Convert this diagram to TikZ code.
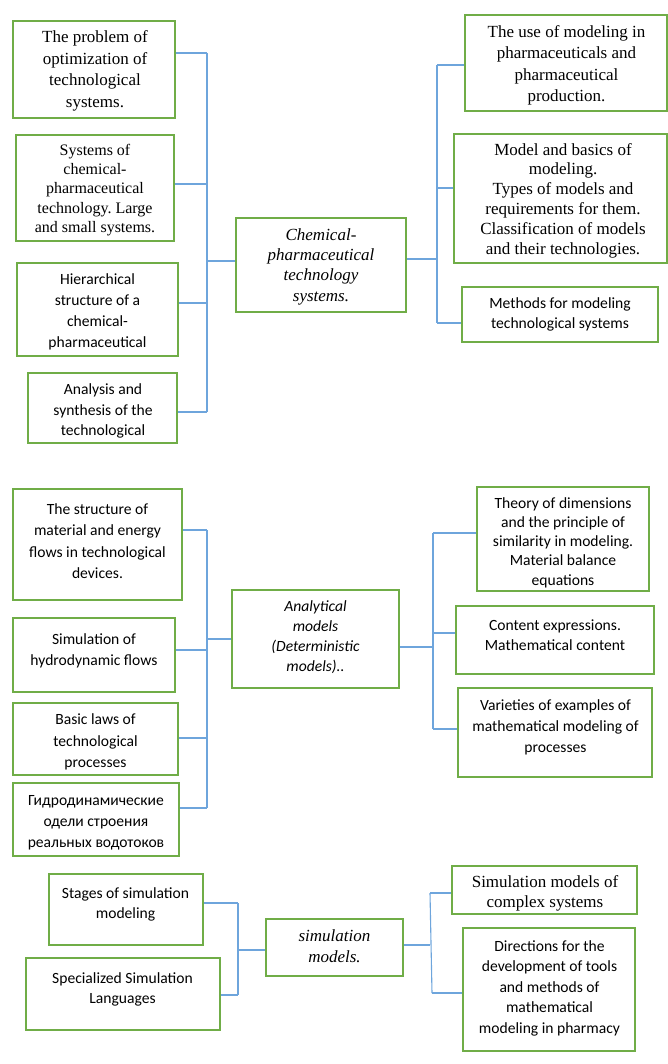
\documentclass[tikz,border=0pt]{standalone}
\usepackage{fontspec}
\setmainfont{Liberation Serif}
\newfontfamily\carl{Carlito}
\usetikzlibrary{fit}
\definecolor{boxgreen}{RGB}{112,173,71}
\definecolor{linkblue}{RGB}{110,165,220}
\frenchspacing
\begin{document}
\begin{tikzpicture}[x=1pt,y=-1pt,
  box/.style={draw=boxgreen, line width=1.6pt, inner sep=0pt},
  conn/.style={draw=linkblue, line width=1.1pt},
  sr/.style={align=center, inner sep=0pt, font=\fontsize{17}{20.5}\selectfont},
  sri/.style={align=center, inner sep=0pt, font=\fontsize{17}{20.3}\selectfont\itshape},
  ss/.style={align=center, inner sep=0pt, font=\carl\fontsize{15.6}{20.8}\selectfont},
  ssi/.style={align=center, inner sep=0pt, font=\carl\fontsize{15.6}{20}\selectfont\itshape}]
\useasboundingbox[fill=white] (0,0) rectangle (668,1064);

% ---------- top group ----------
\node[box, fit={(13,21) (175,118)}] (b1) {};
\node[box, fit={(16,135) (174,241)}] (b2) {};
\node[box, fit={(17,263) (178,356)}] (b3) {};
\node[box, fit={(28,373) (177,443)}] (b4) {};
\node[box, fit={(236,218) (406,312)}] (c1) {};
\node[box, fit={(465,15) (667,111)}] (r1) {};
\node[box, fit={(454,134) (667,263)}] (r2) {};
\node[box, fit={(462,287) (658,342)}] (r3) {};

\node[sr, font=\fontsize{17}{21.5}\selectfont] (tb1) at (95,71) {The problem of\\optimization of\\technological\\systems.};
\node[sr, font=\fontsize{16}{19.3}\selectfont] (tb2) at (95,190) {Systems of\\chemical-\\pharmaceutical\\technology. Large\\and small systems.};
\node[ss] (tb3) at (97.5,312) {Hierarchical\\structure of a\\chemical-\\pharmaceutical};
\node[ss] (tb4) at (103,411) {Analysis and\\synthesis of the\\technological};
\node[sri] (tc1) at (321,266.5) {Chemical-\\pharmaceutical\\technology\\systems.};
\node[sr, font=\fontsize{17}{21.5}\selectfont] (tr1) at (566.5,65.5) {The use of modeling in\\pharmaceuticals and\\pharmaceutical\\production.};
\node[sr, font=\fontsize{17}{19.8}\selectfont] (tr2) at (563,200.5) {Model and basics of\\modeling.\\Types of models and\\requirements for them.\\Classification of models\\and their technologies.};
\node[ss, font=\carl\fontsize{15.6}{20}\selectfont] (tr3) at (560,314) {Methods for modeling\\technological systems};

\coordinate (la1) at (207,53);
\coordinate (la2) at (207,184);
\coordinate (la3) at (207,303);
\coordinate (la4) at (207,412);
\coordinate (lac) at (207,261);
\coordinate (ra0) at (437,259);
\coordinate (ra1) at (437,65);
\coordinate (ra2) at (437,188);
\coordinate (ra3) at (437,323);
\draw[conn] (la1) -- (la4);
\draw[conn] (b1.east |- la1) -- (la1);
\draw[conn] (b2.east |- la2) -- (la2);
\draw[conn] (b3.east |- la3) -- (la3);
\draw[conn] (b4.east |- la4) -- (la4);
\draw[conn] (lac) -- (c1.west |- lac);
\draw[conn] (c1.east |- ra0) -- (ra0);
\draw[conn] (ra1) -- (ra3);
\draw[conn] (ra1) -- (r1.west |- ra1);
\draw[conn] (ra2) -- (r2.west |- ra2);
\draw[conn] (ra3) -- (r3.west |- ra3);

% ---------- middle group ----------
\node[box, fit={(13,489) (182,600)}] (m1) {};
\node[box, fit={(13,618) (175,692)}] (m2) {};
\node[box, fit={(13,703) (178,775)}] (m3) {};
\node[box, fit={(13,783) (179,856)}] (m4) {};
\node[box, fit={(232,590) (399,688)}] (mc) {};
\node[box, fit={(477,487) (649,591)}] (n1) {};
\node[box, fit={(456,606) (654,674)}] (n2) {};
\node[box, fit={(458,688) (652,777)}] (n3) {};

\node[ss, font=\carl\fontsize{15.6}{21.3}\selectfont] (tm1) at (97.5,541) {The structure of\\material and energy\\flows in technological\\devices.};
\node[ss] (tm2) at (94,651) {Simulation of\\hydrodynamic flows};
\node[ss, font=\carl\fontsize{15.6}{21.5}\selectfont] (tm3) at (95.5,742) {Basic laws of\\technological\\processes};
\node[ss] (tm4) at (96,822.5) {Гидродинамические\\одели строения\\реальных водотоков};
\node[ssi] (tmc) at (315.5,637) {Analytical\\models\\(Deterministic\\models)..};
\node[ss, font=\carl\fontsize{15.6}{19.3}\selectfont] (tn1) at (563,542.5) {Theory of dimensions\\and the principle of\\similarity in modeling.\\Material balance\\equations};
\node[ss, font=\carl\fontsize{15.6}{20}\selectfont] (tn2) at (555,635) {Content expressions.\\Mathematical content};
\node[ss] (tn3) at (555.5,727.5) {Varieties of examples of\\mathematical modeling of\\processes};

\coordinate (lb1) at (207,530);
\coordinate (lb2) at (207,650);
\coordinate (lb3) at (207,738);
\coordinate (lb4) at (207,808);
\coordinate (lbc) at (207,639);
\coordinate (rb0) at (433,647);
\coordinate (rb1) at (433,533);
\coordinate (rb2) at (433,633);
\coordinate (rb3) at (433,729);
\draw[conn] (lb1) -- (lb4);
\draw[conn] (m1.east |- lb1) -- (lb1);
\draw[conn] (m2.east |- lb2) -- (lb2);
\draw[conn] (m3.east |- lb3) -- (lb3);
\draw[conn] (m4.east |- lb4) -- (lb4);
\draw[conn] (lbc) -- (mc.west |- lbc);
\draw[conn] (mc.east |- rb0) -- (rb0);
\draw[conn] (rb1) -- (rb3);
\draw[conn] (rb1) -- (n1.west |- rb1);
\draw[conn] (rb2) -- (n2.west |- rb2);
\draw[conn] (rb3) -- (n3.west |- rb3);

% ---------- bottom group ----------
\node[box, fit={(49,874) (203,945)}] (s1) {};
\node[box, fit={(26,958) (220,1030)}] (s2) {};
\node[box, fit={(266,919) (403,976)}] (sc) {};
\node[box, fit={(452,866) (637,914)}] (q1) {};
\node[box, fit={(463,928) (635,1051)}] (q2) {};

\node[ss, font=\carl\fontsize{15.6}{20}\selectfont] (ts1) at (125.5,904) {Stages of simulation\\modeling};
\node[ss, font=\carl\fontsize{15.6}{20}\selectfont] (ts2) at (122.5,989) {Specialized Simulation\\Languages};
\node[sri, font=\fontsize{17}{21}\selectfont\itshape] (tsc) at (334.5,946.5) {simulation\\models.};
\node[sr, font=\fontsize{17}{20}\selectfont] (tq1) at (545,893) {Simulation models of\\complex systems};
\node[ss, font=\carl\fontsize{15.6}{20.5}\selectfont] (tq2) at (549.5,988) {Directions for the\\development of tools\\and methods of\\mathematical\\modeling in pharmacy};

\coordinate (lc1) at (238,903);
\coordinate (lc2) at (238,995);
\coordinate (lcc) at (238,950);
\coordinate (rc0) at (430,945);
\coordinate (rc1) at (430,893);
\coordinate (rc2) at (432,993);
\draw[conn] (lc1) -- (lc2);
\draw[conn] (s1.east |- lc1) -- (lc1);
\draw[conn] (s2.east |- lc2) -- (lc2);
\draw[conn] (lcc) -- (sc.west |- lcc);
\draw[conn] (sc.east |- rc0) -- (rc0);
\draw[conn] (rc1) -- (rc2);
\draw[conn] (rc1) -- (q1.west |- rc1);
\draw[conn] (rc2) -- (q2.west |- rc2);
\end{tikzpicture}
\end{document}
